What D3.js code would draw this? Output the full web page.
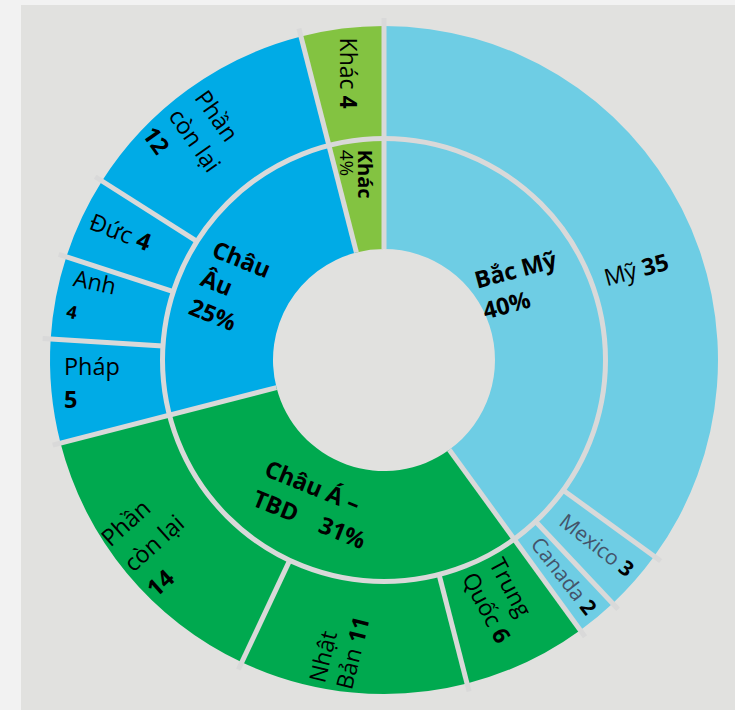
<!DOCTYPE html>
<html><head><meta charset="utf-8">
<script src="https://cdn.jsdelivr.net/npm/d3@7"></script>
<style>
body{margin:0;background:#f2f2f2;}
svg{display:block;}
text{font-family:"Open Sans","Noto Sans",sans-serif;}
</style>
</head><body>
<svg id="c" width="735" height="710"></svg>
<script>
// ---- data ----
const regions = ["Bắc Mỹ", "Châu Á – TBD", "Châu Âu", "Khác"];
const regionShares = [40, 31, 25, 4];
const countries = ["Mỹ", "Mexico", "Canada", "Trung Quốc", "Nhật Bản", "Phần còn lại", "Pháp", "Anh", "Đức", "Phần còn lại", "Khác"];
const countryValues = [35, 3, 2, 6, 11, 14, 5, 4, 4, 12, 4];
const countryRegion = [0, 0, 0, 1, 1, 1, 2, 2, 2, 2, 3];

// ---- styling / layout ----
const regionColors = ["#6ecde4", "#00a94f", "#00abe6", "#83c341"];
const SEP = "#d9d9d9";
const W = 735, H = 710, cx = 384, cy = 360;
const R0 = 111, RM = 221.5, R3 = 334;

// label line templates ({v} = value, bold)
const innerLines = [["Bắc Mỹ", "{v}"], ["Châu Á –", "TBD    {v}"], ["Châu", "Âu", "{v}"], ["Khác", "{v}"]];
const outerLines = [["Mỹ {v}"], ["Mexico {v}"], ["Canada {v}"], ["Trung", "Quốc {v}"], ["Nhật", "Bản {v}"],
  ["Phần", "còn lại", "{v}"], ["Pháp", "{v}"], ["Anh", "{v}"], ["Đức {v}"], ["Phần", "còn lại", "{v}"], ["Khác {v}"]];
// [angle deg clockwise from top, radius, rotation]
const innerPos = [[61.1, 155, -15], [205.4, 160, 22], [295, 170, 22], [351.4, 188, 90]];
const outerPos = [[70.3, 268, -15], [131, 282, 38], [140.2, 281, 52], [154.2, 267, 62], [188.8, 293, -76],
  [231.5, 294, -42], [265.5, 293, 0], [282, 299, 12], [295.9, 293, 21], [319.3, 290, 55], [353, 289, 90]];
const innerStyle = [{fs: 23.5, lh: 32}, {fs: 23.5, lh: 32}, {fs: 23.5, lh: 31}, {fs: 20, lh: 18, vfs: 19, vw: 400}];
const outerStyle = [{fs: 23.5}, {fs: 21, fill: "#44546a"}, {fs: 21, fill: "#44546a"}, {fs: 23, lh: 31}, {fs: 23, lh: 28},
  {fs: 23.5, lh: 34}, {fs: 23.5, lh: 33}, {fs: 23, lh: 32, vfs: 18}, {fs: 23.5}, {fs: 23.5, lh: 32}, {fs: 23}];

const svg = d3.select("#c");
svg.append("rect").attr("x", 21).attr("y", 5).attr("width", W - 21).attr("height", H - 5).attr("fill", "#e1e1df");
const g = svg.append("g").attr("transform", `translate(${cx},${cy})`);

const pie = d3.pie().sort(null).value(d => d);
const innerArcs = pie(regionShares);
const outerArcs = pie(countryValues);
const arcInner = d3.arc().innerRadius(R0).outerRadius(RM);
const arcOuter = d3.arc().innerRadius(RM).outerRadius(R3);

g.selectAll("path.in").data(innerArcs).join("path").attr("class", "in")
  .attr("d", arcInner).attr("fill", (d, i) => regionColors[i]);
g.selectAll("path.out").data(outerArcs).join("path").attr("class", "out")
  .attr("d", arcOuter).attr("fill", (d, i) => regionColors[countryRegion[i]]);

// ring separator
g.append("circle").attr("r", RM).attr("fill", "none").attr("stroke", SEP).attr("stroke-width", 5);

// radial separators
const regionBounds = innerArcs.map(d => d.startAngle);
const countryBounds = outerArcs.map(d => d.startAngle).filter(a => !regionBounds.some(b => Math.abs(a - b) < 1e-6));
const seps = regionBounds.map(a => ({a, r0: R0})).concat(countryBounds.map(a => ({a, r0: RM})));
g.selectAll("line.sep").data(seps).join("line").attr("class", "sep")
  .attr("x1", d => d.r0 * Math.sin(d.a)).attr("y1", d => -d.r0 * Math.cos(d.a))
  .attr("x2", d => (R3 + 8) * Math.sin(d.a)).attr("y2", d => -(R3 + 8) * Math.cos(d.a))
  .attr("stroke", SEP).attr("stroke-width", 5);

function drawLabel(pos, lines, value, st, allBold) {
  const a = pos[0] * Math.PI / 180;
  const x = pos[1] * Math.sin(a), y = -pos[1] * Math.cos(a);
  const lg = g.append("g").attr("transform", `translate(${x},${y}) rotate(${pos[2]})`);
  const fs = st.fs, lh = st.lh || 32, n = lines.length;
  const texts = [];
  lines.forEach((ln, i) => {
    const t = lg.append("text").attr("y", (i - (n - 1) / 2) * lh + 0.36 * fs)
      .attr("font-size", fs).style("white-space", "pre");
    const parts = ln.split("{v}");
    parts.forEach((p, j) => {
      if (p.length) t.append("tspan").text(p)
        .attr("font-weight", allBold ? 700 : 400).attr("fill", st.fill || "#000");
      if (j < parts.length - 1) t.append("tspan").text(value)
        .attr("font-weight", st.vw || 700).attr("font-size", st.vfs || fs).attr("fill", "#000");
    });
    texts.push(t);
  });
  const maxW = d3.max(texts, t => t.node().getComputedTextLength());
  texts.forEach(t => t.attr("x", -maxW / 2));
}

innerLines.forEach((lines, i) => drawLabel(innerPos[i], lines, regionShares[i] + "%", innerStyle[i], true));
outerLines.forEach((lines, i) => drawLabel(outerPos[i], lines, String(countryValues[i]), outerStyle[i], false));
</script>
</body></html>
